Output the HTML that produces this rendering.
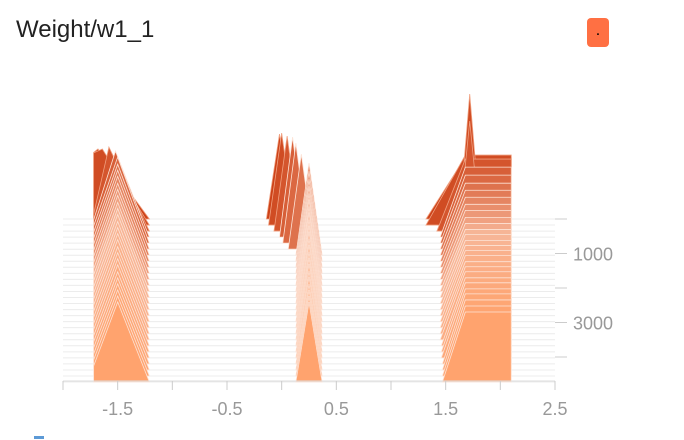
<!DOCTYPE html>
<html><head><meta charset="utf-8"><style>
body{margin:0;width:684px;height:440px;overflow:hidden;background:#fff;font-family:"Liberation Sans",sans-serif;}
#title{position:absolute;left:16px;top:16px;font-size:24px;color:#222;}
#btn{position:absolute;left:587px;top:18px;width:22px;height:29px;background:#ff7043;border-radius:4px;color:#000;text-align:center;font-size:16px;line-height:26px;}
svg{position:absolute;left:0;top:0;}
</style></head><body>
<div id="title">Weight/w1_1</div>
<div id="btn">.</div>
<svg id="c" width="684" height="440"></svg>
<script>
const xTicks=[-2,-1.5,-1,-0.5,0,0.5,1,1.5,2,2.5];
const xLabels=["","-1.5","","-0.5","","0.5","","1.5","","2.5"];
const yTicks=[0,1000,2000,3000,4000];
const yLabels=["","1000","","3000",""];
const steps=[0,175,350,525,700,875,1050,1225,1400,1575,1750,1925,2100,2275,2450,2625,2800,2975,3150,3325,3500,3675,3850,4025,4200,4375,4550,4725];
const aPeakX=[-1.68,-1.64,-1.58,-1.52,-1.5,-1.5,-1.5,-1.5,-1.5,-1.5,-1.5,-1.5,-1.5,-1.5,-1.5,-1.5,-1.5,-1.5,-1.5,-1.5,-1.5,-1.5,-1.5,-1.5,-1.5,-1.5,-1.5,-1.5];
const aPeakH=[70,76,84,86,86,85,85,85,84,84,84,83,83,83,82,82,82,82,81,81,81,81,80,80,80,80,80,80];
const bPeakX=[-0.02,0.0,0.05,0.1,0.13,0.18,0.25,0.25,0.25,0.25,0.25,0.25,0.25,0.25,0.25,0.25,0.25,0.25,0.25,0.25,0.25,0.25,0.25,0.25,0.25,0.25,0.25,0.25];
const bPeakH=[85,92,95,100,100,95,92,90,88,87,86,86,85,85,84,84,84,83,83,82,82,82,81,81,80,80,80,80];
const cLeft=[1.32,1.32,1.42,1.45,1.45,1.45,1.45,1.45,1.45,1.45,1.45,1.45,1.45,1.45,1.45,1.45,1.45,1.45,1.45,1.45,1.45,1.46,1.46,1.46,1.47,1.47,1.47,1.47];
const cPlateauH=[62,70,72,70,68,66,65,64,63,63,62,62,62,63,63,64,65,66,66,67,68,68,69,69,70,70,70,70];
const cSpikeH=[74,131,110,0,0,0,0,0,0,0,0,0,0,0,0,0,0,0,0,0,0,0,0,0,0,0,0,0];
const NS="http://www.w3.org/2000/svg";
const svg=document.getElementById('c');
const X=v=>63+(v+2)*(555-63)/4.5;
const Y=s=>219+s*(34.5/1000);
function el(t,a){const e=document.createElementNS(NS,t);for(const k in a)e.setAttribute(k,a[k]);svg.appendChild(e);return e;}
function lerp(a,b,t){return a.map((v,i)=>Math.round(v+(b[i]-v)*t));}
function col(t){const c0=[205,66,24],c1=[247,182,152],c2=[255,163,110];
 const c=t<0.45?lerp(c0,c1,t/0.45):lerp(c1,c2,(t-0.45)/0.55);return `rgb(${c})`;}
steps.forEach((s,i)=>{const l=el('line',{x1:63,x2:555,y1:Y(s),y2:Y(s),stroke:'#ececec','stroke-width':1});

});
const n=steps.length;
steps.forEach((s,i)=>{
 const y0=Y(s),f=col(i/(n-1)),st=i<3?'#f0a080':'#fde3d6';
 const pA=[[X(-1.72),y0],[X(-1.72),y0-(aPeakX[i]<-1.62?aPeakH[i]*0.95:aPeakH[i]*0.2)],[X(aPeakX[i]),y0-aPeakH[i]],[X(-1.21),y0]];
 const pB=[[X(bPeakX[i]-0.12),y0],[X(bPeakX[i]),y0-bPeakH[i]],[X(bPeakX[i]+0.12),y0]];
 const pC=[[X(cLeft[i]),y0],[X(1.68),y0-cPlateauH[i]],[X(2.1),y0-cPlateauH[i]],[X(2.1),y0]];
 [[pA,'cluster-a'],[pB,'cluster-b'],[pC,'cluster-c']].forEach(([p,nm])=>{
  const e=el('polygon',{points:p.map(q=>q.join(',')).join(' '),fill:f,stroke:st,'stroke-width':0.8});
  
  });
 if(cSpikeH[i]>0){const e=el('polygon',{points:[[X(1.62),y0],[X(1.72),y0-cSpikeH[i]],[X(1.82),y0]].map(q=>q.join(',')).join(' '),fill:f,stroke:st,'stroke-width':0.8});
  
  }
});
const ax=el('line',{x1:63,x2:555,y1:381,y2:381,stroke:'#ddd'});


xTicks.forEach((v,i)=>{const t=el('line',{x1:X(v),x2:X(v),y1:381,y2:390,stroke:'#ccc'});
 
 
 if(xLabels[i]){const tx=el('text',{x:X(v),y:415,'text-anchor':'middle','font-size':18,fill:'#999','font-family':'Liberation Sans, sans-serif'});tx.textContent=xLabels[i];
 
 }});
yTicks.forEach((v,i)=>{const t=el('line',{x1:555,x2:567,y1:Y(v),y2:Y(v),stroke:'#ccc'});
 
 
 if(yLabels[i]){const tx=el('text',{x:573,y:Y(v)+7,'font-size':18,fill:'#999','font-family':'Liberation Sans, sans-serif'});tx.textContent=yLabels[i];
 
 }});
const m=el('rect',{x:34,y:436,width:10,height:3,fill:'#5c9ad6'});


</script>
</body></html>
